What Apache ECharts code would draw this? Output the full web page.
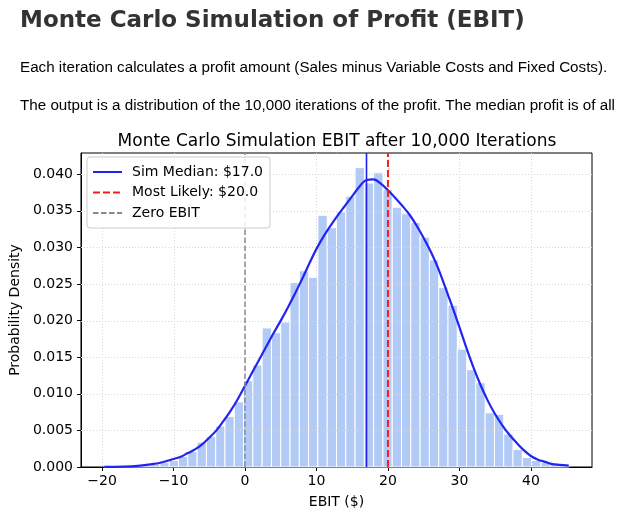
<!DOCTYPE html>
<html>
<head>
<meta charset="utf-8">
<script src="https://cdn.jsdelivr.net/npm/echarts@6/dist/echarts.min.js"></script>
<style>
  html, body { margin: 0; padding: 0; background: #fff; width: 624px; height: 522px; overflow: hidden; }
  #chart { position: absolute; left: 0; top: 0; width: 624px; height: 522px; }
  .txt { position: absolute; left: 20px; white-space: nowrap; z-index: 2; }
  #h1 { top: 6px; font: bold 23px "DejaVu Sans", sans-serif; color: #333; }
  .p { font: 15.2px "Liberation Sans", Arial, sans-serif; color: #000; }
</style>
</head>
<body>
<div id="chart"></div>
<div id="h1" class="txt">Monte Carlo Simulation of Profit (EBIT)</div>
<div class="txt p" style="top:58px">Each iteration calculates a profit amount (Sales minus Variable Costs and Fixed Costs).</div>
<div class="txt p" style="top:96px">The output is a distribution of the 10,000 iterations of the profit. The median profit is of all</div>
<script>
// ---- data ----
const chartTitle = 'Monte Carlo Simulation EBIT after 10,000 Iterations';
const binStart = -19.7;
const binWidth = 1.3;
const histDensity = [
  0.00003, 0.00008, 0.00012, 0.0002, 0.0003, 0.0004, 0.0006, 0.0009, 0.00145, 0.0021,
  0.0034, 0.0042, 0.0056, 0.0069, 0.0089, 0.0118, 0.01395, 0.0190, 0.01835, 0.0198,
  0.0252, 0.0268, 0.0259, 0.0344, 0.0327, 0.03485, 0.0370, 0.0409, 0.0388, 0.0402,
  0.0379, 0.0355, 0.0346, 0.0334, 0.0314, 0.0283, 0.0245, 0.0221, 0.0161, 0.0133,
  0.0115, 0.0074, 0.0072, 0.0045, 0.0024, 0.0013, 0.0009, 0.0006, 0.0004, 0.0003
];
const kdeX = [-19.7, -17, -15, -13, -12, -11, -10, -9, -8, -7, -6, -5, -4, -3, -2, -1, 0,
  1, 2, 3, 4, 5, 6, 7, 8, 9, 10, 11, 12, 13, 14, 15, 16, 17, 18, 19, 20,
  21, 22, 23, 24, 25, 26, 27, 28, 29, 30, 31, 32, 33, 34, 35, 36, 37, 38, 39, 40,
  41, 42, 43, 44, 45.3];
const kdeY = [0.00002, 0.00005, 0.00015, 0.0004, 0.00055, 0.0008, 0.0011, 0.0014, 0.0019, 0.0024, 0.0031, 0.0040, 0.0050, 0.0063, 0.0077, 0.0093, 0.0111,
  0.0129, 0.0147, 0.0165, 0.0183, 0.0200, 0.0218, 0.0237, 0.0257, 0.0278, 0.0298, 0.0315, 0.0330, 0.0344, 0.0357, 0.0370, 0.0383, 0.0392, 0.0393, 0.0387, 0.0378,
  0.0368, 0.0357, 0.0345, 0.0330, 0.0313, 0.0294, 0.0272, 0.0246, 0.0219, 0.0191, 0.0162, 0.0135, 0.0111, 0.0090, 0.0072, 0.0057, 0.0044, 0.0033, 0.0023, 0.0015,
  0.0010, 0.0007, 0.0004, 0.0003, 0.0002];
const simMedian = 17.0;
const mostLikely = 20.0;
const zeroEbit = 0;
const xTicks = [-20, -10, 0, 10, 20, 30, 40];
const yTicks = [0, 0.005, 0.010, 0.015, 0.020, 0.025, 0.030, 0.035, 0.040];
const xMin = -22.95, xMax = 48.55, yMin = 0, yMax = 0.0429;

// ---- chart ----
const FONT = 'DejaVu Sans';
const chart = echarts.init(document.getElementById('chart'), null, { renderer: 'canvas' });

const histData = histDensity.map((d, i) => [binStart + i * binWidth, binStart + (i + 1) * binWidth, d]);
const kdeData = kdeX.map((x, i) => [x, kdeY[i]]);
const vline = v => [[v, yMin], [v, yMax]];

const option = {
  animation: false,
  title: {
    text: chartTitle,
    left: 332, top: 128, textAlign: 'center',
    textStyle: { fontFamily: FONT, fontSize: 17, fontWeight: 'normal', color: '#000' }
  },
  grid: { left: 79, top: 153, width: 513, height: 314, show: true, borderColor: '#000', borderWidth: 1, backgroundColor: 'transparent' },
  legend: {
    data: ['Sim Median: $17.0', 'Most Likely: $20.0', 'Zero EBIT'],
    orient: 'vertical', left: 87, top: 157, z: 20,
    itemWidth: 29, itemHeight: 14, itemGap: 6.5,
    padding: [8, 7, 8, 5],
    itemStyle: { opacity: 0 },
    backgroundColor: 'rgba(255,255,255,0.85)', borderColor: '#cccccc', borderWidth: 1, borderRadius: 3,
    textStyle: { fontFamily: FONT, fontSize: 14, color: '#000', padding: [0, 0, 0, 5] }
  },
  xAxis: {
    type: 'value', min: xMin, max: xMax,
    name: 'EBIT ($)', nameLocation: 'middle', nameGap: 28,
    nameTextStyle: { fontFamily: FONT, fontSize: 14, color: '#000' },
    axisLine: { show: true, onZero: false, lineStyle: { color: '#000', width: 1 } },
    axisTick: { show: true, length: 4, customValues: xTicks, lineStyle: { color: '#000' } },
    axisLabel: { customValues: xTicks, margin: 7, fontFamily: FONT, fontSize: 14, color: '#000',
      formatter: v => String(v).replace('-', '\u2212') },
    splitLine: { show: false }
  },
  yAxis: {
    type: 'value', min: yMin, max: yMax,
    name: 'Probability Density', nameLocation: 'middle', nameRotate: 90, nameGap: 54,
    nameTextStyle: { fontFamily: FONT, fontSize: 14, color: '#000' },
    axisLine: { show: true, onZero: false, lineStyle: { color: '#000', width: 1 } },
    axisTick: { show: true, length: 4, customValues: yTicks, lineStyle: { color: '#000' } },
    axisLabel: { customValues: yTicks, margin: 8, fontFamily: FONT, fontSize: 14, color: '#000',
      formatter: v => v.toFixed(3) },
    splitLine: { show: false }
  },
  series: [
    {
      name: 'hist', type: 'custom', z: 2, silent: true,
      encode: { x: [0, 1], y: 2 },
      data: histData,
      renderItem: (params, api) => {
        const p0 = api.coord([api.value(0), api.value(2)]);
        const p1 = api.coord([api.value(1), 0]);
        return { type: 'rect', shape: { x: p0[0], y: p0[1], width: p1[0] - p0[0], height: p1[1] - p0[1] },
          style: { fill: '#b1caf6', stroke: '#ffffff', lineWidth: 1 } };
      }
    },
    {
      name: 'gridX', type: 'custom', z: 3, silent: true,
      encode: { x: 0, y: 1 },
      data: xTicks.map(v => [v, 0]),
      renderItem: (params, api) => {
        const cs = params.coordSys;
        const x = Math.round(api.coord([api.value(0), 0])[0]) + 0.5;
        return { type: 'line', shape: { x1: x, y1: cs.y, x2: x, y2: cs.y + cs.height },
          style: { stroke: '#d8d8d8', lineWidth: 1, lineDash: [1, 2] } };
      }
    },
    {
      name: 'gridY', type: 'custom', z: 3, silent: true,
      encode: { x: 0, y: 1 },
      data: yTicks.filter(v => v > 0).map(v => [0, v]),
      renderItem: (params, api) => {
        const cs = params.coordSys;
        const y = Math.round(api.coord([0, api.value(1)])[1]) + 0.5;
        return { type: 'line', shape: { x1: cs.x, y1: y, x2: cs.x + cs.width, y2: y },
          style: { stroke: '#d8d8d8', lineWidth: 1, lineDash: [1, 2] } };
      }
    },
    {
      name: 'KDE', type: 'line', z: 4, data: kdeData, smooth: 0.35, symbol: 'none', silent: true,
      lineStyle: { color: '#2424f2', width: 2.2 }
    },
    {
      name: 'Sim Median: $17.0', type: 'line', z: 5, data: vline(simMedian), symbol: 'none', silent: true,
      itemStyle: { color: '#2020f0' },
      lineStyle: { color: '#2020f0', width: 1.6, type: 'solid' }
    },
    {
      name: 'Most Likely: $20.0', type: 'line', z: 5, data: vline(mostLikely), symbol: 'none', silent: true,
      itemStyle: { color: '#ff1a1a' },
      lineStyle: { color: '#ff1a1a', width: 2, type: [7, 3] }
    },
    {
      name: 'Zero EBIT', type: 'line', z: 5, data: vline(zeroEbit), symbol: 'none', silent: true,
      itemStyle: { color: '#8a8a8a' },
      lineStyle: { color: '#8a8a8a', width: 1.5, type: [5.5, 2.5] }
    }
  ]
};
chart.setOption(option);
</script>
</body>
</html>
